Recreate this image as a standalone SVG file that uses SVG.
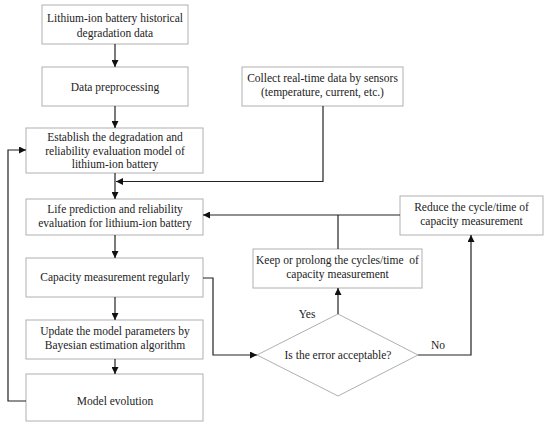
<svg xmlns="http://www.w3.org/2000/svg" width="550" height="428" viewBox="0 0 550 428">
<defs>
<marker id="ah" viewBox="0 0 10 10" refX="10" refY="5" markerWidth="7" markerHeight="7" markerUnits="userSpaceOnUse" orient="auto">
<path d="M0,0 L10,5 L0,10 z" fill="#111"/>
</marker>
<style>
.box{fill:#fff;stroke:#b0b0b0;stroke-width:1}
.t{font-family:"Liberation Serif","Times New Roman",serif;font-size:11.5px;fill:#222;text-anchor:middle}
.c{fill:none;stroke:#222;stroke-width:1.2;marker-end:url(#ah)}
.l{fill:none;stroke:#222;stroke-width:1.2}
</style>
</defs>
<rect width="550" height="428" fill="#fff"/>
<g id="n1"><rect class="box" x="42" y="5" width="146" height="39"/>
<text class="t" x="115" y="22">Lithium-ion battery historical</text><text class="t" x="115" y="37">degradation data</text></g>
<g id="n2"><rect class="box" x="42" y="67" width="146" height="39"/>
<text class="t" x="115" y="91">Data preprocessing</text></g>
<g id="n3"><rect class="box" x="26" y="128" width="177" height="45"/>
<text class="t" x="115" y="141">Establish the degradation and</text><text class="t" x="115" y="154.5">reliability evaluation model of</text><text class="t" x="115" y="168">lithium-ion battery</text></g>
<g id="n4"><rect class="box" x="26" y="199" width="177" height="36"/>
<text class="t" x="115" y="213">Life prediction and reliability</text><text class="t" x="115" y="227">evaluation for lithium-ion battery</text></g>
<g id="n5"><rect class="box" x="26" y="258" width="177" height="39"/>
<text class="t" x="115" y="281">Capacity measurement regularly</text></g>
<g id="n6"><rect class="box" x="26" y="320" width="177" height="39"/>
<text class="t" x="115" y="335">Update the model parameters by</text><text class="t" x="115" y="349">Bayesian estimation algorithm</text></g>
<g id="n7"><rect class="box" x="26" y="374" width="177" height="47"/>
<text class="t" x="115" y="405">Model evolution</text></g>
<g id="n8"><rect class="box" x="242" y="67" width="161" height="39"/>
<text class="t" x="322.5" y="82">Collect real-time data by sensors</text><text class="t" x="322.5" y="96">(temperature, current, etc.)</text></g>
<g id="n9"><rect class="box" x="400" y="196" width="143" height="39"/>
<text class="t" x="471.5" y="211">Reduce the cycle/time of</text><text class="t" x="471.5" y="225">capacity measurement</text></g>
<g id="n10"><rect class="box" x="253" y="249" width="169" height="39"/>
<text class="t" x="337.5" y="264" xml:space="preserve" style="white-space:pre">Keep or prolong the cycles/time  of</text><text class="t" x="337.5" y="278">capacity measurement</text></g>
<g id="n11"><polygon class="box" points="338,314 418,355 338,396 257,355"/>
<text class="t" x="338" y="359">Is the error acceptable?</text></g>
<g id="edges">
<path class="c" d="M115,44 V67"/>
<path class="c" d="M115,106 V128"/>
<path class="c" d="M115,173 V199"/>
<path class="c" d="M323,106 V181.5 H116"/>
<path class="c" d="M115,235 V258"/>
<path class="c" d="M115,297 V320"/>
<path class="c" d="M115,359 V374"/>
<path class="c" d="M26,401 H8 V150 H26"/>
<path class="c" d="M203,278 H213 V355 H257"/>
<path class="c" d="M338,314 V288"/>
<path class="c" d="M418,355 H471 V235"/>
<path class="c" d="M400,215 H203"/>
<path class="l" d="M338,249 V215"/>
<text class="t" x="307" y="318">Yes</text>
<text class="t" x="438" y="349">No</text>
</g>
</svg>
